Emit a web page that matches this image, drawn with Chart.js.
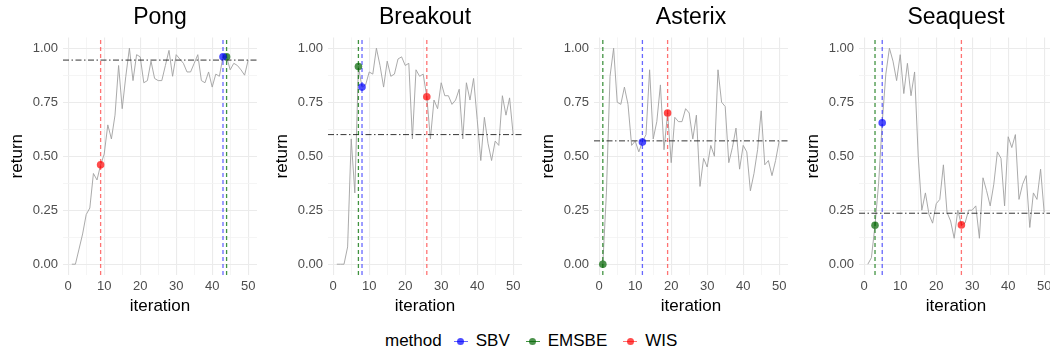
<!DOCTYPE html>
<html>
<head>
<meta charset="utf-8">
<script src="https://cdn.jsdelivr.net/npm/chart.js@4/dist/chart.umd.min.js"></script>
<style>
  body { margin: 0; background: #fff; }
  #wrap { position: relative; width: 1050px; height: 351px; overflow: hidden; font-family: "Liberation Sans", Arial, sans-serif; }
  .panel { position: absolute; top: 0; width: 262px; height: 320px; }
  #legend { position: absolute; top: 331px; left: 385px; height: 20px; display: flex; align-items: center; font-size: 17px; color: #000; }
  #legend .key { position: relative; width: 18px; height: 18px; margin: 0 6px 0 8px; }
  #legend .key i { position: absolute; left: 2px; right: 2px; top: 8.5px; height: 1px; }
  #legend .key b { position: absolute; left: 5.5px; top: 5.5px; width: 7px; height: 7px; border-radius: 50%; }
  #legend .lab { margin-right: 6px; }
</style>
</head>
<body>
<div id="wrap">
  <div class="panel" style="left:0px"><canvas id="c0"></canvas></div>
  <div class="panel" style="left:264.5px"><canvas id="c1"></canvas></div>
  <div class="panel" style="left:530.5px"><canvas id="c2"></canvas></div>
  <div class="panel" style="left:795.5px"><canvas id="c3"></canvas></div>
  <div id="legend"></div>
</div>
<script>
var games = ['Pong', 'Breakout', 'Asterix', 'Seaquest'];
var methods = ['SBV', 'EMSBE', 'WIS'];
var iterations = [1, 2, 3, 4, 5, 6, 7, 8, 9, 10, 11, 12, 13, 14, 15, 16, 17, 18, 19, 20,
  21, 22, 23, 24, 25, 26, 27, 28, 29, 30, 31, 32, 33, 34, 35, 36, 37, 38, 39, 40,
  41, 42, 43, 44, 45, 46, 47, 48, 49, 50];

var pongReturn = [0.00, 0.00, 0.07, 0.14, 0.23, 0.26, 0.42, 0.39, 0.46, 0.51,
  0.645, 0.58, 0.69, 0.92, 0.72, 0.87, 1.00, 0.85, 0.97, 0.96,
  0.84, 0.85, 0.94, 0.86, 0.85, 0.85, 0.92, 0.99, 0.87, 0.97,
  0.95, 0.93, 0.89, 0.89, 0.93, 0.97, 0.85, 0.84, 0.89, 0.82,
  0.88, 0.87, 0.96, 0.96, 0.90, 0.93, 0.92, 0.90, 0.875, 0.945];
var breakoutReturn = [0.00, 0.00, 0.00, 0.08, 0.58, 0.33, 0.915, 0.82, 0.83, 0.89,
  0.88, 1.00, 0.92, 0.82, 0.94, 0.87, 0.88, 0.95, 0.96, 0.92,
  0.93, 0.58, 0.90, 0.87, 0.88, 0.775, 0.58, 0.76, 0.72, 0.84,
  0.78, 0.78, 0.74, 0.76, 0.81, 0.58, 0.84, 0.76, 0.86, 0.67,
  0.48, 0.68, 0.56, 0.48, 0.57, 0.55, 0.78, 0.69, 0.77, 0.60];
var asterixReturn = [0.00, 0.33, 0.87, 1.00, 0.75, 0.74, 0.82, 0.74, 0.55, 0.57,
  0.52, 0.566, 0.60, 0.90, 0.58, 0.66, 0.83, 0.53, 0.70, 0.47,
  0.68, 0.66, 0.66, 0.72, 0.70, 0.58, 0.69, 0.36, 0.49, 0.45,
  0.55, 0.50, 0.90, 0.75, 0.73, 0.47, 0.54, 0.63, 0.44, 0.55,
  0.52, 0.34, 0.42, 0.53, 0.71, 0.46, 0.48, 0.41, 0.48, 0.57];
var seaquestReturn = [0.00, 0.03, 0.18, 0.375, 0.655, 0.88, 1.00, 0.94, 0.85, 0.97,
  0.79, 0.93, 0.78, 0.89, 0.50, 0.25, 0.33, 0.23, 0.19, 0.28,
  0.30, 0.46, 0.24, 0.20, 0.12, 0.25, 0.182, 0.19, 0.25, 0.25,
  0.27, 0.12, 0.40, 0.34, 0.27, 0.37, 0.52, 0.49, 0.27, 0.59,
  0.54, 0.60, 0.30, 0.37, 0.41, 0.17, 0.33, 0.30, 0.44, 0.24];

// selected iteration per method, order SBV, EMSBE, WIS
var pongPicks = [43, 44, 9];
var breakoutPicks = [8, 7, 26];
var asterixPicks = [12, 1, 19];
var seaquestPicks = [5, 3, 27];

// dash-dot reference level per game
var referenceLevels = [0.945, 0.60, 0.571, 0.236];

var xTicks = [0, 5, 10, 15, 20, 25, 30, 35, 40, 45, 50];
var yTicks = [0, 0.125, 0.25, 0.375, 0.5, 0.625, 0.75, 0.875, 1];

var pointColors = ['rgba(0,0,255,0.7)', 'rgba(0,100,0,0.7)', 'rgba(255,0,0,0.7)'];
var vlineColors = ['rgba(40,40,255,0.7)', 'rgba(0,110,0,0.75)', 'rgba(255,40,40,0.65)'];

var allReturns = [pongReturn, breakoutReturn, asterixReturn, seaquestReturn];
var allPicks = [pongPicks, breakoutPicks, asterixPicks, seaquestPicks];

var X_MIN = -1.45, X_MAX = 52.45, Y_MIN = -0.05, Y_MAX = 1.05;

function isMajorY(v) { return Math.abs(v * 4 - Math.round(v * 4)) < 1e-9; }

function makeChart(idx) {
  var ret = allReturns[idx];
  var picks = allPicks[idx];
  var datasets = [];

  // picked points on top
  picks.forEach(function(it, m) {
    datasets.push({
      label: methods[m],
      data: [{ x: it, y: ret[it - 1] }],
      showLine: false,
      pointRadius: 3.8,
      pointBackgroundColor: pointColors[m],
      pointBorderWidth: 0,
      order: 0
    });
  });
  // vertical dashed lines
  picks.forEach(function(it, m) {
    datasets.push({
      label: methods[m] + ' line',
      data: [{ x: it, y: Y_MIN }, { x: it, y: Y_MAX }],
      showLine: true,
      borderColor: vlineColors[m],
      borderWidth: 1.3,
      borderDash: [4, 3],
      pointRadius: 0,
      order: 1
    });
  });
  // horizontal reference
  datasets.push({
    label: 'reference',
    data: [{ x: X_MIN, y: referenceLevels[idx] }, { x: X_MAX, y: referenceLevels[idx] }],
    showLine: true,
    borderColor: 'rgba(30,30,30,0.9)',
    borderWidth: 1,
    borderDash: [6, 2.5, 1.5, 2.5],
    pointRadius: 0,
    order: 2
  });
  // return curve
  datasets.push({
    label: 'return',
    data: iterations.map(function(it, i) { return { x: it, y: ret[i] }; }),
    showLine: true,
    borderColor: 'rgba(160,160,160,1)',
    borderWidth: 0.9,
    pointRadius: 0,
    tension: 0,
    order: 3
  });

  var tickFont = { family: 'Liberation Sans', size: 13 };
  var titleFont = { family: 'Liberation Sans', size: 17 };

  new Chart(document.getElementById('c' + idx), {
    type: 'scatter',
    data: { datasets: datasets },
    options: {
      responsive: true,
      maintainAspectRatio: false,
      animation: false,
      events: [],
      layout: { padding: { left: 0, right: 5, top: 0, bottom: 0 } },
      plugins: {
        legend: { display: false },
        tooltip: { enabled: false },
        title: {
          display: true,
          text: games[idx],
          fullSize: false,
          color: '#000',
          font: { family: 'Liberation Sans', size: 23, weight: 'normal' },
          padding: { top: 3.7, bottom: 6.1 }
        }
      },
      scales: {
        x: {
          type: 'linear',
          min: X_MIN,
          max: X_MAX,
          afterBuildTicks: function(s) { s.ticks = xTicks.map(function(v) { return { value: v }; }); },
          afterFit: function(s) { s.height = 45; },
          border: { display: false },
          grid: {
            drawTicks: false,
            color: function(c) { return c.tick && c.tick.value % 10 === 0 ? '#EBEBEB' : '#F3F3F3'; },
            lineWidth: function(c) { return c.tick && c.tick.value % 10 === 0 ? 1.1 : 0.8; }
          },
          ticks: {
            autoSkip: false,
            maxRotation: 0,
            padding: 4,
            color: '#4D4D4D',
            font: tickFont,
            callback: function(v) { return v % 10 === 0 ? String(v) : ''; }
          },
          title: { display: true, text: 'iteration', color: '#000', font: titleFont, padding: { top: 0, bottom: 3.8 } }
        },
        y: {
          type: 'linear',
          min: Y_MIN,
          max: Y_MAX,
          afterBuildTicks: function(s) { s.ticks = yTicks.map(function(v) { return { value: v }; }); },
          afterFit: function(s) { s.width = 63; },
          border: { display: false },
          grid: {
            drawTicks: false,
            color: function(c) { return c.tick && isMajorY(c.tick.value) ? '#EBEBEB' : '#F3F3F3'; },
            lineWidth: function(c) { return c.tick && isMajorY(c.tick.value) ? 1.1 : 0.8; }
          },
          ticks: {
            autoSkip: false,
            padding: 5,
            color: '#4D4D4D',
            font: tickFont,
            callback: function(v) { return isMajorY(v) ? v.toFixed(2) : ''; }
          },
          title: { display: true, text: 'return', color: '#000', font: titleFont, padding: { top: 6.8, bottom: 0 } }
        }
      }
    }
  });
}

games.forEach(function(g, i) { makeChart(i); });

// legend
var legend = document.getElementById('legend');
var head = document.createElement('span');
head.textContent = 'method';
head.style.marginRight = '2px';
legend.appendChild(head);
methods.forEach(function(m, i) {
  var key = document.createElement('span');
  key.className = 'key';
  key.innerHTML = '<i style="background:' + vlineColors[i] + '"></i><b style="background:' + pointColors[i] + '"></b>';
  legend.appendChild(key);
  var lab = document.createElement('span');
  lab.className = 'lab';
  lab.textContent = m;
  legend.appendChild(lab);
});
</script>
</body>
</html>
